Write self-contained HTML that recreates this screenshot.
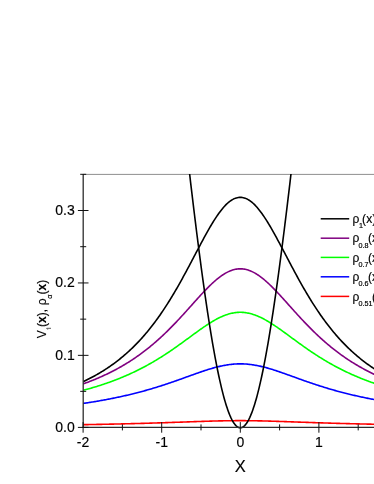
<!DOCTYPE html>
<html><head><meta charset="utf-8"><style>
html,body{margin:0;padding:0;background:#fff;}
body{width:374px;height:484px;overflow:hidden;}
svg{will-change:transform;display:block;font-family:"Liberation Sans",sans-serif;}
</style></head><body>
<svg width="374" height="484" viewBox="0 0 374 484">
<rect width="374" height="484" fill="#fff"/>
<defs><clipPath id="c"><rect x="83.2" y="174.0" width="300" height="260"/></clipPath></defs>
<line x1="83" x2="374" y1="174.4" y2="174.4" stroke="#8e8e8e" stroke-width="1"/>
<g clip-path="url(#c)" fill="none" stroke-width="1.6" stroke-linejoin="round">
<path d="M83.10,424.66 L84.08,424.64 L85.07,424.62 L86.05,424.61 L87.03,424.59 L88.01,424.58 L89.00,424.56 L89.98,424.54 L90.96,424.52 L91.94,424.51 L92.93,424.49 L93.91,424.47 L94.89,424.45 L95.87,424.44 L96.86,424.42 L97.84,424.40 L98.82,424.38 L99.80,424.36 L100.79,424.34 L101.77,424.33 L102.75,424.31 L103.73,424.29 L104.72,424.27 L105.70,424.25 L106.68,424.23 L107.66,424.21 L108.65,424.19 L109.63,424.17 L110.61,424.15 L111.59,424.13 L112.58,424.11 L113.56,424.08 L114.54,424.06 L115.52,424.04 L116.51,424.02 L117.49,424.00 L118.47,423.98 L119.45,423.95 L120.44,423.93 L121.42,423.91 L122.40,423.89 L123.38,423.86 L124.37,423.84 L125.35,423.81 L126.33,423.79 L127.31,423.77 L128.30,423.74 L129.28,423.72 L130.26,423.69 L131.24,423.67 L132.23,423.64 L133.21,423.62 L134.19,423.59 L135.17,423.57 L136.16,423.54 L137.14,423.52 L138.12,423.49 L139.10,423.46 L140.09,423.44 L141.07,423.41 L142.05,423.38 L143.03,423.35 L144.02,423.33 L145.00,423.30 L145.98,423.27 L146.96,423.24 L147.95,423.21 L148.93,423.18 L149.91,423.15 L150.89,423.12 L151.88,423.09 L152.86,423.06 L153.84,423.03 L154.82,423.00 L155.81,422.97 L156.79,422.94 L157.77,422.91 L158.75,422.88 L159.74,422.85 L160.72,422.82 L161.70,422.79 L162.68,422.75 L163.67,422.72 L164.65,422.69 L165.63,422.66 L166.61,422.62 L167.60,422.59 L168.58,422.56 L169.56,422.52 L170.54,422.49 L171.53,422.46 L172.51,422.42 L173.49,422.39 L174.47,422.35 L175.46,422.32 L176.44,422.29 L177.42,422.25 L178.40,422.22 L179.39,422.18 L180.37,422.15 L181.35,422.11 L182.33,422.08 L183.31,422.04 L184.30,422.01 L185.28,421.97 L186.26,421.94 L187.25,421.90 L188.23,421.87 L189.21,421.83 L190.19,421.80 L191.18,421.76 L192.16,421.73 L193.14,421.70 L194.12,421.66 L195.11,421.63 L196.09,421.59 L197.07,421.56 L198.05,421.53 L199.04,421.49 L200.02,421.46 L201.00,421.43 L201.98,421.39 L202.97,421.36 L203.95,421.33 L204.93,421.30 L205.91,421.27 L206.90,421.24 L207.88,421.21 L208.86,421.18 L209.84,421.15 L210.83,421.12 L211.81,421.09 L212.79,421.07 L213.77,421.04 L214.76,421.02 L215.74,420.99 L216.72,420.97 L217.70,420.94 L218.69,420.92 L219.67,420.90 L220.65,420.88 L221.63,420.86 L222.62,420.84 L223.60,420.82 L224.58,420.80 L225.56,420.78 L226.55,420.77 L227.53,420.75 L228.51,420.74 L229.49,420.73 L230.48,420.71 L231.46,420.70 L232.44,420.69 L233.42,420.69 L234.41,420.68 L235.39,420.67 L236.37,420.67 L237.35,420.66 L238.34,420.66 L239.32,420.66 L240.30,420.66 L241.28,420.66 L242.27,420.66 L243.25,420.66 L244.23,420.67 L245.21,420.67 L246.20,420.68 L247.18,420.69 L248.16,420.69 L249.14,420.70 L250.12,420.71 L251.11,420.73 L252.09,420.74 L253.07,420.75 L254.06,420.77 L255.04,420.78 L256.02,420.80 L257.00,420.82 L257.99,420.84 L258.97,420.86 L259.95,420.88 L260.93,420.90 L261.92,420.92 L262.90,420.94 L263.88,420.97 L264.86,420.99 L265.85,421.02 L266.83,421.04 L267.81,421.07 L268.79,421.09 L269.78,421.12 L270.76,421.15 L271.74,421.18 L272.72,421.21 L273.70,421.24 L274.69,421.27 L275.67,421.30 L276.65,421.33 L277.63,421.36 L278.62,421.39 L279.60,421.43 L280.58,421.46 L281.56,421.49 L282.55,421.53 L283.53,421.56 L284.51,421.59 L285.50,421.63 L286.48,421.66 L287.46,421.70 L288.44,421.73 L289.43,421.76 L290.41,421.80 L291.39,421.83 L292.37,421.87 L293.36,421.90 L294.34,421.94 L295.32,421.97 L296.30,422.01 L297.29,422.04 L298.27,422.08 L299.25,422.11 L300.23,422.15 L301.22,422.18 L302.20,422.22 L303.18,422.25 L304.16,422.29 L305.15,422.32 L306.13,422.35 L307.11,422.39 L308.09,422.42 L309.07,422.46 L310.06,422.49 L311.04,422.52 L312.02,422.56 L313.00,422.59 L313.99,422.62 L314.97,422.66 L315.95,422.69 L316.94,422.72 L317.92,422.75 L318.90,422.79 L319.88,422.82 L320.87,422.85 L321.85,422.88 L322.83,422.91 L323.81,422.94 L324.80,422.97 L325.78,423.00 L326.76,423.03 L327.74,423.06 L328.73,423.09 L329.71,423.12 L330.69,423.15 L331.67,423.18 L332.65,423.21 L333.64,423.24 L334.62,423.27 L335.60,423.30 L336.59,423.33 L337.57,423.35 L338.55,423.38 L339.53,423.41 L340.51,423.44 L341.50,423.46 L342.48,423.49 L343.46,423.52 L344.45,423.54 L345.43,423.57 L346.41,423.59 L347.39,423.62 L348.38,423.64 L349.36,423.67 L350.34,423.69 L351.32,423.72 L352.31,423.74 L353.29,423.77 L354.27,423.79 L355.25,423.81 L356.24,423.84 L357.22,423.86 L358.20,423.89 L359.18,423.91 L360.16,423.93 L361.15,423.95 L362.13,423.98 L363.11,424.00 L364.10,424.02 L365.08,424.04 L366.06,424.06 L367.04,424.08 L368.02,424.11 L369.01,424.13 L369.99,424.15 L370.97,424.17 L371.95,424.19 L372.94,424.21 L373.92,424.23 L374.90,424.25 L375.88,424.27 L376.87,424.29 L377.85,424.31" stroke="#ff0000"/>
<path d="M83.10,403.46 L84.08,403.31 L85.07,403.16 L86.05,403.01 L87.03,402.86 L88.01,402.71 L89.00,402.55 L89.98,402.40 L90.96,402.24 L91.94,402.08 L92.93,401.92 L93.91,401.76 L94.89,401.60 L95.87,401.43 L96.86,401.26 L97.84,401.09 L98.82,400.92 L99.80,400.75 L100.79,400.58 L101.77,400.40 L102.75,400.23 L103.73,400.05 L104.72,399.87 L105.70,399.68 L106.68,399.50 L107.66,399.31 L108.65,399.12 L109.63,398.93 L110.61,398.74 L111.59,398.55 L112.58,398.35 L113.56,398.15 L114.54,397.95 L115.52,397.75 L116.51,397.55 L117.49,397.34 L118.47,397.13 L119.45,396.92 L120.44,396.71 L121.42,396.49 L122.40,396.28 L123.38,396.06 L124.37,395.83 L125.35,395.61 L126.33,395.38 L127.31,395.16 L128.30,394.93 L129.28,394.69 L130.26,394.46 L131.24,394.22 L132.23,393.98 L133.21,393.74 L134.19,393.49 L135.17,393.24 L136.16,392.99 L137.14,392.74 L138.12,392.49 L139.10,392.23 L140.09,391.97 L141.07,391.71 L142.05,391.44 L143.03,391.18 L144.02,390.91 L145.00,390.63 L145.98,390.36 L146.96,390.08 L147.95,389.80 L148.93,389.52 L149.91,389.23 L150.89,388.95 L151.88,388.66 L152.86,388.36 L153.84,388.07 L154.82,387.77 L155.81,387.47 L156.79,387.17 L157.77,386.86 L158.75,386.55 L159.74,386.24 L160.72,385.93 L161.70,385.62 L162.68,385.30 L163.67,384.98 L164.65,384.66 L165.63,384.33 L166.61,384.00 L167.60,383.68 L168.58,383.34 L169.56,383.01 L170.54,382.68 L171.53,382.34 L172.51,382.00 L173.49,381.66 L174.47,381.32 L175.46,380.97 L176.44,380.63 L177.42,380.28 L178.40,379.93 L179.39,379.58 L180.37,379.23 L181.35,378.88 L182.33,378.53 L183.31,378.17 L184.30,377.82 L185.28,377.47 L186.26,377.11 L187.25,376.76 L188.23,376.40 L189.21,376.05 L190.19,375.69 L191.18,375.34 L192.16,374.98 L193.14,374.63 L194.12,374.28 L195.11,373.93 L196.09,373.58 L197.07,373.24 L198.05,372.89 L199.04,372.55 L200.02,372.21 L201.00,371.87 L201.98,371.54 L202.97,371.21 L203.95,370.88 L204.93,370.56 L205.91,370.24 L206.90,369.92 L207.88,369.61 L208.86,369.31 L209.84,369.01 L210.83,368.71 L211.81,368.43 L212.79,368.14 L213.77,367.87 L214.76,367.60 L215.74,367.34 L216.72,367.08 L217.70,366.84 L218.69,366.60 L219.67,366.37 L220.65,366.14 L221.63,365.93 L222.62,365.73 L223.60,365.53 L224.58,365.35 L225.56,365.17 L226.55,365.01 L227.53,364.85 L228.51,364.71 L229.49,364.57 L230.48,364.45 L231.46,364.34 L232.44,364.24 L233.42,364.15 L234.41,364.07 L235.39,364.01 L236.37,363.96 L237.35,363.91 L238.34,363.88 L239.32,363.87 L240.30,363.86 L241.28,363.87 L242.27,363.88 L243.25,363.91 L244.23,363.96 L245.21,364.01 L246.20,364.07 L247.18,364.15 L248.16,364.24 L249.14,364.34 L250.12,364.45 L251.11,364.57 L252.09,364.71 L253.07,364.85 L254.06,365.01 L255.04,365.17 L256.02,365.35 L257.00,365.53 L257.99,365.73 L258.97,365.93 L259.95,366.14 L260.93,366.37 L261.92,366.60 L262.90,366.84 L263.88,367.08 L264.86,367.34 L265.85,367.60 L266.83,367.87 L267.81,368.14 L268.79,368.43 L269.78,368.71 L270.76,369.01 L271.74,369.31 L272.72,369.61 L273.70,369.92 L274.69,370.24 L275.67,370.56 L276.65,370.88 L277.63,371.21 L278.62,371.54 L279.60,371.87 L280.58,372.21 L281.56,372.55 L282.55,372.89 L283.53,373.24 L284.51,373.58 L285.50,373.93 L286.48,374.28 L287.46,374.63 L288.44,374.98 L289.43,375.34 L290.41,375.69 L291.39,376.05 L292.37,376.40 L293.36,376.76 L294.34,377.11 L295.32,377.47 L296.30,377.82 L297.29,378.17 L298.27,378.53 L299.25,378.88 L300.23,379.23 L301.22,379.58 L302.20,379.93 L303.18,380.28 L304.16,380.63 L305.15,380.97 L306.13,381.32 L307.11,381.66 L308.09,382.00 L309.07,382.34 L310.06,382.68 L311.04,383.01 L312.02,383.34 L313.00,383.68 L313.99,384.00 L314.97,384.33 L315.95,384.66 L316.94,384.98 L317.92,385.30 L318.90,385.62 L319.88,385.93 L320.87,386.24 L321.85,386.55 L322.83,386.86 L323.81,387.17 L324.80,387.47 L325.78,387.77 L326.76,388.07 L327.74,388.36 L328.73,388.66 L329.71,388.95 L330.69,389.23 L331.67,389.52 L332.65,389.80 L333.64,390.08 L334.62,390.36 L335.60,390.63 L336.59,390.91 L337.57,391.18 L338.55,391.44 L339.53,391.71 L340.51,391.97 L341.50,392.23 L342.48,392.49 L343.46,392.74 L344.45,392.99 L345.43,393.24 L346.41,393.49 L347.39,393.74 L348.38,393.98 L349.36,394.22 L350.34,394.46 L351.32,394.69 L352.31,394.93 L353.29,395.16 L354.27,395.38 L355.25,395.61 L356.24,395.83 L357.22,396.06 L358.20,396.28 L359.18,396.49 L360.16,396.71 L361.15,396.92 L362.13,397.13 L363.11,397.34 L364.10,397.55 L365.08,397.75 L366.06,397.95 L367.04,398.15 L368.02,398.35 L369.01,398.55 L369.99,398.74 L370.97,398.93 L371.95,399.12 L372.94,399.31 L373.92,399.50 L374.90,399.68 L375.88,399.87 L376.87,400.05 L377.85,400.23" stroke="#0000ff"/>
<path d="M83.10,390.36 L84.08,390.10 L85.07,389.83 L86.05,389.57 L87.03,389.29 L88.01,389.02 L89.00,388.74 L89.98,388.46 L90.96,388.17 L91.94,387.89 L92.93,387.60 L93.91,387.30 L94.89,387.01 L95.87,386.71 L96.86,386.40 L97.84,386.10 L98.82,385.78 L99.80,385.47 L100.79,385.15 L101.77,384.83 L102.75,384.51 L103.73,384.18 L104.72,383.85 L105.70,383.51 L106.68,383.17 L107.66,382.83 L108.65,382.48 L109.63,382.13 L110.61,381.78 L111.59,381.42 L112.58,381.05 L113.56,380.69 L114.54,380.32 L115.52,379.94 L116.51,379.56 L117.49,379.18 L118.47,378.79 L119.45,378.39 L120.44,378.00 L121.42,377.60 L122.40,377.19 L123.38,376.78 L124.37,376.36 L125.35,375.94 L126.33,375.52 L127.31,375.09 L128.30,374.65 L129.28,374.21 L130.26,373.77 L131.24,373.32 L132.23,372.86 L133.21,372.40 L134.19,371.94 L135.17,371.47 L136.16,370.99 L137.14,370.51 L138.12,370.03 L139.10,369.53 L140.09,369.04 L141.07,368.54 L142.05,368.03 L143.03,367.51 L144.02,367.00 L145.00,366.47 L145.98,365.94 L146.96,365.41 L147.95,364.87 L148.93,364.32 L149.91,363.77 L150.89,363.21 L151.88,362.65 L152.86,362.08 L153.84,361.50 L154.82,360.92 L155.81,360.34 L156.79,359.75 L157.77,359.15 L158.75,358.55 L159.74,357.94 L160.72,357.32 L161.70,356.70 L162.68,356.08 L163.67,355.45 L164.65,354.81 L165.63,354.17 L166.61,353.53 L167.60,352.88 L168.58,352.22 L169.56,351.56 L170.54,350.89 L171.53,350.22 L172.51,349.55 L173.49,348.87 L174.47,348.18 L175.46,347.50 L176.44,346.80 L177.42,346.11 L178.40,345.41 L179.39,344.71 L180.37,344.00 L181.35,343.29 L182.33,342.58 L183.31,341.87 L184.30,341.15 L185.28,340.44 L186.26,339.72 L187.25,339.00 L188.23,338.28 L189.21,337.55 L190.19,336.83 L191.18,336.11 L192.16,335.39 L193.14,334.67 L194.12,333.95 L195.11,333.24 L196.09,332.52 L197.07,331.81 L198.05,331.10 L199.04,330.40 L200.02,329.70 L201.00,329.01 L201.98,328.32 L202.97,327.64 L203.95,326.96 L204.93,326.29 L205.91,325.63 L206.90,324.98 L207.88,324.33 L208.86,323.70 L209.84,323.08 L210.83,322.47 L211.81,321.87 L212.79,321.28 L213.77,320.70 L214.76,320.14 L215.74,319.60 L216.72,319.07 L217.70,318.55 L218.69,318.05 L219.67,317.57 L220.65,317.10 L221.63,316.66 L222.62,316.23 L223.60,315.82 L224.58,315.43 L225.56,315.06 L226.55,314.72 L227.53,314.39 L228.51,314.09 L229.49,313.81 L230.48,313.55 L231.46,313.32 L232.44,313.11 L233.42,312.92 L234.41,312.76 L235.39,312.62 L236.37,312.51 L237.35,312.42 L238.34,312.36 L239.32,312.32 L240.30,312.30 L241.28,312.32 L242.27,312.36 L243.25,312.42 L244.23,312.51 L245.21,312.62 L246.20,312.76 L247.18,312.92 L248.16,313.11 L249.14,313.32 L250.12,313.55 L251.11,313.81 L252.09,314.09 L253.07,314.39 L254.06,314.72 L255.04,315.06 L256.02,315.43 L257.00,315.82 L257.99,316.23 L258.97,316.66 L259.95,317.10 L260.93,317.57 L261.92,318.05 L262.90,318.55 L263.88,319.07 L264.86,319.60 L265.85,320.14 L266.83,320.70 L267.81,321.28 L268.79,321.87 L269.78,322.47 L270.76,323.08 L271.74,323.70 L272.72,324.33 L273.70,324.98 L274.69,325.63 L275.67,326.29 L276.65,326.96 L277.63,327.64 L278.62,328.32 L279.60,329.01 L280.58,329.70 L281.56,330.40 L282.55,331.10 L283.53,331.81 L284.51,332.52 L285.50,333.24 L286.48,333.95 L287.46,334.67 L288.44,335.39 L289.43,336.11 L290.41,336.83 L291.39,337.55 L292.37,338.28 L293.36,339.00 L294.34,339.72 L295.32,340.44 L296.30,341.15 L297.29,341.87 L298.27,342.58 L299.25,343.29 L300.23,344.00 L301.22,344.71 L302.20,345.41 L303.18,346.11 L304.16,346.80 L305.15,347.50 L306.13,348.18 L307.11,348.87 L308.09,349.55 L309.07,350.22 L310.06,350.89 L311.04,351.56 L312.02,352.22 L313.00,352.88 L313.99,353.53 L314.97,354.17 L315.95,354.81 L316.94,355.45 L317.92,356.08 L318.90,356.70 L319.88,357.32 L320.87,357.94 L321.85,358.55 L322.83,359.15 L323.81,359.75 L324.80,360.34 L325.78,360.92 L326.76,361.50 L327.74,362.08 L328.73,362.65 L329.71,363.21 L330.69,363.77 L331.67,364.32 L332.65,364.87 L333.64,365.41 L334.62,365.94 L335.60,366.47 L336.59,367.00 L337.57,367.51 L338.55,368.03 L339.53,368.54 L340.51,369.04 L341.50,369.53 L342.48,370.03 L343.46,370.51 L344.45,370.99 L345.43,371.47 L346.41,371.94 L347.39,372.40 L348.38,372.86 L349.36,373.32 L350.34,373.77 L351.32,374.21 L352.31,374.65 L353.29,375.09 L354.27,375.52 L355.25,375.94 L356.24,376.36 L357.22,376.78 L358.20,377.19 L359.18,377.60 L360.16,378.00 L361.15,378.39 L362.13,378.79 L363.11,379.18 L364.10,379.56 L365.08,379.94 L366.06,380.32 L367.04,380.69 L368.02,381.05 L369.01,381.42 L369.99,381.78 L370.97,382.13 L371.95,382.48 L372.94,382.83 L373.92,383.17 L374.90,383.51 L375.88,383.85 L376.87,384.18 L377.85,384.51" stroke="#00ff00"/>
<path d="M83.10,383.93 L84.08,383.58 L85.07,383.22 L86.05,382.86 L87.03,382.50 L88.01,382.13 L89.00,381.75 L89.98,381.37 L90.96,380.99 L91.94,380.60 L92.93,380.21 L93.91,379.81 L94.89,379.41 L95.87,379.00 L96.86,378.59 L97.84,378.17 L98.82,377.75 L99.80,377.32 L100.79,376.89 L101.77,376.45 L102.75,376.01 L103.73,375.56 L104.72,375.10 L105.70,374.64 L106.68,374.18 L107.66,373.71 L108.65,373.23 L109.63,372.75 L110.61,372.26 L111.59,371.76 L112.58,371.26 L113.56,370.75 L114.54,370.24 L115.52,369.72 L116.51,369.19 L117.49,368.66 L118.47,368.12 L119.45,367.57 L120.44,367.01 L121.42,366.45 L122.40,365.88 L123.38,365.31 L124.37,364.73 L125.35,364.14 L126.33,363.54 L127.31,362.94 L128.30,362.32 L129.28,361.71 L130.26,361.08 L131.24,360.44 L132.23,359.80 L133.21,359.15 L134.19,358.49 L135.17,357.82 L136.16,357.15 L137.14,356.46 L138.12,355.77 L139.10,355.07 L140.09,354.36 L141.07,353.65 L142.05,352.92 L143.03,352.18 L144.02,351.44 L145.00,350.69 L145.98,349.93 L146.96,349.16 L147.95,348.38 L148.93,347.59 L149.91,346.79 L150.89,345.98 L151.88,345.17 L152.86,344.34 L153.84,343.51 L154.82,342.66 L155.81,341.81 L156.79,340.95 L157.77,340.08 L158.75,339.20 L159.74,338.31 L160.72,337.41 L161.70,336.50 L162.68,335.58 L163.67,334.65 L164.65,333.72 L165.63,332.77 L166.61,331.82 L167.60,330.86 L168.58,329.89 L169.56,328.91 L170.54,327.92 L171.53,326.92 L172.51,325.92 L173.49,324.91 L174.47,323.89 L175.46,322.86 L176.44,321.83 L177.42,320.79 L178.40,319.74 L179.39,318.69 L180.37,317.63 L181.35,316.56 L182.33,315.49 L183.31,314.42 L184.30,313.34 L185.28,312.25 L186.26,311.17 L187.25,310.08 L188.23,308.98 L189.21,307.89 L190.19,306.79 L191.18,305.69 L192.16,304.60 L193.14,303.50 L194.12,302.40 L195.11,301.31 L196.09,300.22 L197.07,299.13 L198.05,298.04 L199.04,296.96 L200.02,295.89 L201.00,294.82 L201.98,293.76 L202.97,292.71 L203.95,291.67 L204.93,290.64 L205.91,289.62 L206.90,288.61 L207.88,287.61 L208.86,286.63 L209.84,285.67 L210.83,284.72 L211.81,283.78 L212.79,282.87 L213.77,281.98 L214.76,281.10 L215.74,280.25 L216.72,279.42 L217.70,278.62 L218.69,277.84 L219.67,277.09 L220.65,276.36 L221.63,275.66 L222.62,274.99 L223.60,274.35 L224.58,273.74 L225.56,273.17 L226.55,272.62 L227.53,272.11 L228.51,271.64 L229.49,271.20 L230.48,270.79 L231.46,270.43 L232.44,270.09 L233.42,269.80 L234.41,269.55 L235.39,269.33 L236.37,269.15 L237.35,269.01 L238.34,268.91 L239.32,268.85 L240.30,268.83 L241.28,268.85 L242.27,268.91 L243.25,269.01 L244.23,269.15 L245.21,269.33 L246.20,269.55 L247.18,269.80 L248.16,270.09 L249.14,270.43 L250.12,270.79 L251.11,271.20 L252.09,271.64 L253.07,272.11 L254.06,272.62 L255.04,273.17 L256.02,273.74 L257.00,274.35 L257.99,274.99 L258.97,275.66 L259.95,276.36 L260.93,277.09 L261.92,277.84 L262.90,278.62 L263.88,279.42 L264.86,280.25 L265.85,281.10 L266.83,281.98 L267.81,282.87 L268.79,283.78 L269.78,284.72 L270.76,285.67 L271.74,286.63 L272.72,287.61 L273.70,288.61 L274.69,289.62 L275.67,290.64 L276.65,291.67 L277.63,292.71 L278.62,293.76 L279.60,294.82 L280.58,295.89 L281.56,296.96 L282.55,298.04 L283.53,299.13 L284.51,300.22 L285.50,301.31 L286.48,302.40 L287.46,303.50 L288.44,304.60 L289.43,305.69 L290.41,306.79 L291.39,307.89 L292.37,308.98 L293.36,310.08 L294.34,311.17 L295.32,312.25 L296.30,313.34 L297.29,314.42 L298.27,315.49 L299.25,316.56 L300.23,317.63 L301.22,318.69 L302.20,319.74 L303.18,320.79 L304.16,321.83 L305.15,322.86 L306.13,323.89 L307.11,324.91 L308.09,325.92 L309.07,326.92 L310.06,327.92 L311.04,328.91 L312.02,329.89 L313.00,330.86 L313.99,331.82 L314.97,332.77 L315.95,333.72 L316.94,334.65 L317.92,335.58 L318.90,336.50 L319.88,337.41 L320.87,338.31 L321.85,339.20 L322.83,340.08 L323.81,340.95 L324.80,341.81 L325.78,342.66 L326.76,343.51 L327.74,344.34 L328.73,345.17 L329.71,345.98 L330.69,346.79 L331.67,347.59 L332.65,348.38 L333.64,349.16 L334.62,349.93 L335.60,350.69 L336.59,351.44 L337.57,352.18 L338.55,352.92 L339.53,353.65 L340.51,354.36 L341.50,355.07 L342.48,355.77 L343.46,356.46 L344.45,357.15 L345.43,357.82 L346.41,358.49 L347.39,359.15 L348.38,359.80 L349.36,360.44 L350.34,361.08 L351.32,361.71 L352.31,362.32 L353.29,362.94 L354.27,363.54 L355.25,364.14 L356.24,364.73 L357.22,365.31 L358.20,365.88 L359.18,366.45 L360.16,367.01 L361.15,367.57 L362.13,368.12 L363.11,368.66 L364.10,369.19 L365.08,369.72 L366.06,370.24 L367.04,370.75 L368.02,371.26 L369.01,371.76 L369.99,372.26 L370.97,372.75 L371.95,373.23 L372.94,373.71 L373.92,374.18 L374.90,374.64 L375.88,375.10 L376.87,375.56 L377.85,376.01" stroke="#800080"/>
<path d="M83.10,381.71 L84.08,381.24 L85.07,380.77 L86.05,380.30 L87.03,379.81 L88.01,379.32 L89.00,378.83 L89.98,378.32 L90.96,377.81 L91.94,377.29 L92.93,376.76 L93.91,376.23 L94.89,375.69 L95.87,375.14 L96.86,374.58 L97.84,374.02 L98.82,373.45 L99.80,372.87 L100.79,372.28 L101.77,371.68 L102.75,371.07 L103.73,370.46 L104.72,369.83 L105.70,369.20 L106.68,368.56 L107.66,367.90 L108.65,367.24 L109.63,366.57 L110.61,365.89 L111.59,365.20 L112.58,364.50 L113.56,363.79 L114.54,363.07 L115.52,362.33 L116.51,361.59 L117.49,360.83 L118.47,360.07 L119.45,359.29 L120.44,358.50 L121.42,357.70 L122.40,356.89 L123.38,356.07 L124.37,355.23 L125.35,354.38 L126.33,353.52 L127.31,352.64 L128.30,351.76 L129.28,350.86 L130.26,349.94 L131.24,349.02 L132.23,348.07 L133.21,347.12 L134.19,346.15 L135.17,345.17 L136.16,344.17 L137.14,343.16 L138.12,342.13 L139.10,341.09 L140.09,340.03 L141.07,338.95 L142.05,337.87 L143.03,336.76 L144.02,335.64 L145.00,334.50 L145.98,333.35 L146.96,332.18 L147.95,331.00 L148.93,329.79 L149.91,328.57 L150.89,327.34 L151.88,326.08 L152.86,324.81 L153.84,323.52 L154.82,322.21 L155.81,320.89 L156.79,319.55 L157.77,318.19 L158.75,316.81 L159.74,315.42 L160.72,314.00 L161.70,312.57 L162.68,311.12 L163.67,309.66 L164.65,308.17 L165.63,306.67 L166.61,305.15 L167.60,303.61 L168.58,302.05 L169.56,300.48 L170.54,298.88 L171.53,297.28 L172.51,295.65 L173.49,294.01 L174.47,292.35 L175.46,290.67 L176.44,288.98 L177.42,287.28 L178.40,285.56 L179.39,283.82 L180.37,282.07 L181.35,280.31 L182.33,278.53 L183.31,276.74 L184.30,274.94 L185.28,273.13 L186.26,271.31 L187.25,269.48 L188.23,267.64 L189.21,265.79 L190.19,263.94 L191.18,262.08 L192.16,260.21 L193.14,258.35 L194.12,256.48 L195.11,254.61 L196.09,252.74 L197.07,250.87 L198.05,249.00 L199.04,247.14 L200.02,245.28 L201.00,243.43 L201.98,241.60 L202.97,239.77 L203.95,237.95 L204.93,236.15 L205.91,234.37 L206.90,232.60 L207.88,230.86 L208.86,229.13 L209.84,227.43 L210.83,225.76 L211.81,224.11 L212.79,222.49 L213.77,220.91 L214.76,219.36 L215.74,217.85 L216.72,216.37 L217.70,214.94 L218.69,213.55 L219.67,212.20 L220.65,210.90 L221.63,209.65 L222.62,208.45 L223.60,207.30 L224.58,206.21 L225.56,205.17 L226.55,204.19 L227.53,203.27 L228.51,202.41 L229.49,201.62 L230.48,200.89 L231.46,200.22 L232.44,199.63 L233.42,199.09 L234.41,198.63 L235.39,198.24 L236.37,197.92 L237.35,197.67 L238.34,197.49 L239.32,197.38 L240.30,197.34 L241.28,197.38 L242.27,197.49 L243.25,197.67 L244.23,197.92 L245.21,198.24 L246.20,198.63 L247.18,199.09 L248.16,199.63 L249.14,200.22 L250.12,200.89 L251.11,201.62 L252.09,202.41 L253.07,203.27 L254.06,204.19 L255.04,205.17 L256.02,206.21 L257.00,207.30 L257.99,208.45 L258.97,209.65 L259.95,210.90 L260.93,212.20 L261.92,213.55 L262.90,214.94 L263.88,216.37 L264.86,217.85 L265.85,219.36 L266.83,220.91 L267.81,222.49 L268.79,224.11 L269.78,225.76 L270.76,227.43 L271.74,229.13 L272.72,230.86 L273.70,232.60 L274.69,234.37 L275.67,236.15 L276.65,237.95 L277.63,239.77 L278.62,241.60 L279.60,243.43 L280.58,245.28 L281.56,247.14 L282.55,249.00 L283.53,250.87 L284.51,252.74 L285.50,254.61 L286.48,256.48 L287.46,258.35 L288.44,260.21 L289.43,262.08 L290.41,263.94 L291.39,265.79 L292.37,267.64 L293.36,269.48 L294.34,271.31 L295.32,273.13 L296.30,274.94 L297.29,276.74 L298.27,278.53 L299.25,280.31 L300.23,282.07 L301.22,283.82 L302.20,285.56 L303.18,287.28 L304.16,288.98 L305.15,290.67 L306.13,292.35 L307.11,294.01 L308.09,295.65 L309.07,297.28 L310.06,298.88 L311.04,300.48 L312.02,302.05 L313.00,303.61 L313.99,305.15 L314.97,306.67 L315.95,308.17 L316.94,309.66 L317.92,311.12 L318.90,312.57 L319.88,314.00 L320.87,315.42 L321.85,316.81 L322.83,318.19 L323.81,319.55 L324.80,320.89 L325.78,322.21 L326.76,323.52 L327.74,324.81 L328.73,326.08 L329.71,327.34 L330.69,328.57 L331.67,329.79 L332.65,331.00 L333.64,332.18 L334.62,333.35 L335.60,334.50 L336.59,335.64 L337.57,336.76 L338.55,337.87 L339.53,338.95 L340.51,340.03 L341.50,341.09 L342.48,342.13 L343.46,343.16 L344.45,344.17 L345.43,345.17 L346.41,346.15 L347.39,347.12 L348.38,348.07 L349.36,349.02 L350.34,349.94 L351.32,350.86 L352.31,351.76 L353.29,352.64 L354.27,353.52 L355.25,354.38 L356.24,355.23 L357.22,356.07 L358.20,356.89 L359.18,357.70 L360.16,358.50 L361.15,359.29 L362.13,360.07 L363.11,360.83 L364.10,361.59 L365.08,362.33 L366.06,363.07 L367.04,363.79 L368.02,364.50 L369.01,365.20 L369.99,365.89 L370.97,366.57 L371.95,367.24 L372.94,367.90 L373.92,368.56 L374.90,369.20 L375.88,369.83 L376.87,370.46 L377.85,371.07" stroke="#000000"/>
<path d="M177.42,65.52 L178.05,71.26 L178.68,76.98 L179.31,82.70 L179.94,88.40 L180.56,94.08 L181.19,99.76 L181.82,105.42 L182.45,111.06 L183.08,116.68 L183.71,122.29 L184.34,127.88 L184.97,133.45 L185.59,139.00 L186.22,144.53 L186.85,150.03 L187.48,155.52 L188.11,160.97 L188.74,166.41 L189.37,171.81 L190.00,177.19 L190.62,182.54 L191.25,187.86 L191.88,193.15 L192.51,198.41 L193.14,203.64 L193.77,208.83 L194.40,213.98 L195.03,219.11 L195.66,224.19 L196.28,229.24 L196.91,234.24 L197.54,239.21 L198.17,244.14 L198.80,249.02 L199.43,253.86 L200.06,258.65 L200.69,263.40 L201.31,268.11 L201.94,272.76 L202.57,277.37 L203.20,281.93 L203.83,286.43 L204.46,290.88 L205.09,295.28 L205.72,299.63 L206.34,303.92 L206.97,308.15 L207.60,312.33 L208.23,316.45 L208.86,320.50 L209.49,324.50 L210.12,328.44 L210.75,332.31 L211.38,336.12 L212.00,339.86 L212.63,343.54 L213.26,347.15 L213.89,350.69 L214.52,354.17 L215.15,357.57 L215.78,360.91 L216.41,364.17 L217.03,367.36 L217.66,370.48 L218.29,373.52 L218.92,376.49 L219.55,379.38 L220.18,382.19 L220.81,384.93 L221.44,387.59 L222.06,390.17 L222.69,392.67 L223.32,395.09 L223.95,397.42 L224.58,399.68 L225.21,401.85 L225.84,403.94 L226.47,405.94 L227.10,407.86 L227.72,409.70 L228.35,411.45 L228.98,413.11 L229.61,414.68 L230.24,416.17 L230.87,417.57 L231.50,418.88 L232.13,420.11 L232.75,421.24 L233.38,422.28 L234.01,423.24 L234.64,424.10 L235.27,424.88 L235.90,425.56 L236.53,426.16 L237.16,426.66 L237.78,427.07 L238.41,427.39 L239.04,427.62 L239.67,427.75 L240.30,427.80 L240.93,427.75 L241.56,427.62 L242.19,427.39 L242.82,427.07 L243.44,426.66 L244.07,426.16 L244.70,425.56 L245.33,424.88 L245.96,424.10 L246.59,423.24 L247.22,422.28 L247.85,421.24 L248.47,420.11 L249.10,418.88 L249.73,417.57 L250.36,416.17 L250.99,414.68 L251.62,413.11 L252.25,411.45 L252.88,409.70 L253.50,407.86 L254.13,405.94 L254.76,403.94 L255.39,401.85 L256.02,399.68 L256.65,397.42 L257.28,395.09 L257.91,392.67 L258.54,390.17 L259.16,387.59 L259.79,384.93 L260.42,382.19 L261.05,379.38 L261.68,376.49 L262.31,373.52 L262.94,370.48 L263.57,367.36 L264.19,364.17 L264.82,360.91 L265.45,357.57 L266.08,354.17 L266.71,350.69 L267.34,347.15 L267.97,343.54 L268.60,339.86 L269.22,336.12 L269.85,332.31 L270.48,328.44 L271.11,324.50 L271.74,320.50 L272.37,316.45 L273.00,312.33 L273.63,308.15 L274.26,303.92 L274.88,299.63 L275.51,295.28 L276.14,290.88 L276.77,286.43 L277.40,281.93 L278.03,277.37 L278.66,272.76 L279.29,268.11 L279.91,263.40 L280.54,258.65 L281.17,253.86 L281.80,249.02 L282.43,244.14 L283.06,239.21 L283.69,234.24 L284.32,229.24 L284.94,224.19 L285.57,219.11 L286.20,213.98 L286.83,208.83 L287.46,203.64 L288.09,198.41 L288.72,193.15 L289.35,187.86 L289.98,182.54 L290.60,177.19 L291.23,171.81 L291.86,166.41 L292.49,160.97 L293.12,155.52 L293.75,150.03 L294.38,144.53 L295.01,139.00 L295.63,133.45 L296.26,127.88 L296.89,122.29 L297.52,116.68 L298.15,111.06 L298.78,105.42 L299.41,99.76 L300.04,94.08 L300.66,88.40 L301.29,82.70 L301.92,76.98 L302.55,71.26 L303.18,65.52" stroke="#000"/>
</g>
<g stroke="#2c2c2c" stroke-width="1.3">
<line x1="83.2" x2="83.2" y1="173.9" y2="428"/>
<line x1="82.5" x2="374" y1="427.4" y2="427.4"/>
</g>
<g stroke="#101010" stroke-width="1.0">
<line x1="83.10" x2="83.10" y1="422.1" y2="432.7"/>
<line x1="161.70" x2="161.70" y1="422.1" y2="432.7"/>
<line x1="240.30" x2="240.30" y1="422.1" y2="432.7"/>
<line x1="318.90" x2="318.90" y1="422.1" y2="432.7"/>
<line x1="122.40" x2="122.40" y1="424.4" y2="430.4"/>
<line x1="201.00" x2="201.00" y1="424.4" y2="430.4"/>
<line x1="279.60" x2="279.60" y1="424.4" y2="430.4"/>
<line x1="358.20" x2="358.20" y1="424.4" y2="430.4"/>
<line x1="77.9" x2="88.5" y1="427.40" y2="427.40"/>
<line x1="77.9" x2="88.5" y1="355.35" y2="355.35"/>
<line x1="77.9" x2="88.5" y1="282.95" y2="282.95"/>
<line x1="77.9" x2="88.5" y1="210.50" y2="210.50"/>
<line x1="80.2" x2="86.2" y1="391.35" y2="391.35"/>
<line x1="80.2" x2="86.2" y1="319.15" y2="319.15"/>
<line x1="80.2" x2="86.2" y1="246.70" y2="246.70"/>
<line x1="80.2" x2="86.2" y1="174.30" y2="174.30"/>
</g>
<g font-size="14" fill="#000" stroke="#000" stroke-width="0.15">
<text x="83.1" y="446.8" text-anchor="middle">-2</text>
<text x="161.7" y="446.8" text-anchor="middle">-1</text>
<text x="240.3" y="446.8" text-anchor="middle">0</text>
<text x="318.9" y="446.8" text-anchor="middle">1</text>
<text x="74.8" y="432.0" text-anchor="end">0.0</text>
<text x="74.8" y="359.6" text-anchor="end">0.1</text>
<text x="74.8" y="287.2" text-anchor="end">0.2</text>
<text x="74.8" y="214.8" text-anchor="end">0.3</text>
</g>
<text x="240.2" y="471.8" font-size="16.5" text-anchor="middle" fill="#000" stroke="#000" stroke-width="0.15">X</text>
<text transform="translate(45.9,338.3) rotate(-90)" font-size="12" fill="#000" stroke="#000" stroke-width="0.15">V<tspan dx="3.3">(</tspan><tspan font-weight="bold">x</tspan>),<tspan dx="0.3"> ρ</tspan><tspan font-size="7.5" dy="6" dx="-0.3">α</tspan><tspan dy="-6">(</tspan><tspan font-weight="bold">x</tspan>)</text>
<path d="M46.6,328.3 L51,328.3 M46.7,328.4 L47.8,329.6" stroke="#222" stroke-width="0.75" fill="none"/>
<g fill="#000" stroke="#000" stroke-width="0.15">
<line x1="320.7" x2="349.2" y1="218.8" y2="218.8" stroke="#000000" stroke-width="1.5"/>
<text x="352.6" y="223.0" font-size="12">ρ</text>
<text transform="translate(359.0,228.1) scale(0.9,1)" font-size="8.0" stroke-width="0.2">1</text>
<text x="362.0" y="223.0" font-size="12">(<tspan dx="0.2">x</tspan>)</text>
<line x1="320.7" x2="349.2" y1="238.2" y2="238.2" stroke="#800080" stroke-width="1.5"/>
<text x="352.6" y="242.4" font-size="12">ρ</text>
<text transform="translate(358.5,247.5) scale(0.9,1)" font-size="8.0" stroke-width="0.2">0.8</text>
<text x="367.9" y="242.4" font-size="12">(<tspan dx="0.2">x</tspan>)</text>
<line x1="320.7" x2="349.2" y1="257.4" y2="257.4" stroke="#00ff00" stroke-width="1.5"/>
<text x="352.6" y="261.6" font-size="12">ρ</text>
<text transform="translate(358.5,266.7) scale(0.9,1)" font-size="8.0" stroke-width="0.2">0.7</text>
<text x="367.9" y="261.6" font-size="12">(<tspan dx="0.2">x</tspan>)</text>
<line x1="320.7" x2="349.2" y1="276.8" y2="276.8" stroke="#0000ff" stroke-width="1.5"/>
<text x="352.6" y="281.0" font-size="12">ρ</text>
<text transform="translate(358.5,286.1) scale(0.9,1)" font-size="8.0" stroke-width="0.2">0.6</text>
<text x="367.9" y="281.0" font-size="12">(<tspan dx="0.2">x</tspan>)</text>
<line x1="320.7" x2="349.2" y1="296.4" y2="296.4" stroke="#ff0000" stroke-width="1.5"/>
<text x="352.6" y="300.6" font-size="12">ρ</text>
<text transform="translate(358.5,305.7) scale(0.9,1)" font-size="8.0" stroke-width="0.2">0.51</text>
<text x="372.1" y="300.6" font-size="12">(<tspan dx="0.2">x</tspan>)</text>
</g>
</svg>
</body></html>
